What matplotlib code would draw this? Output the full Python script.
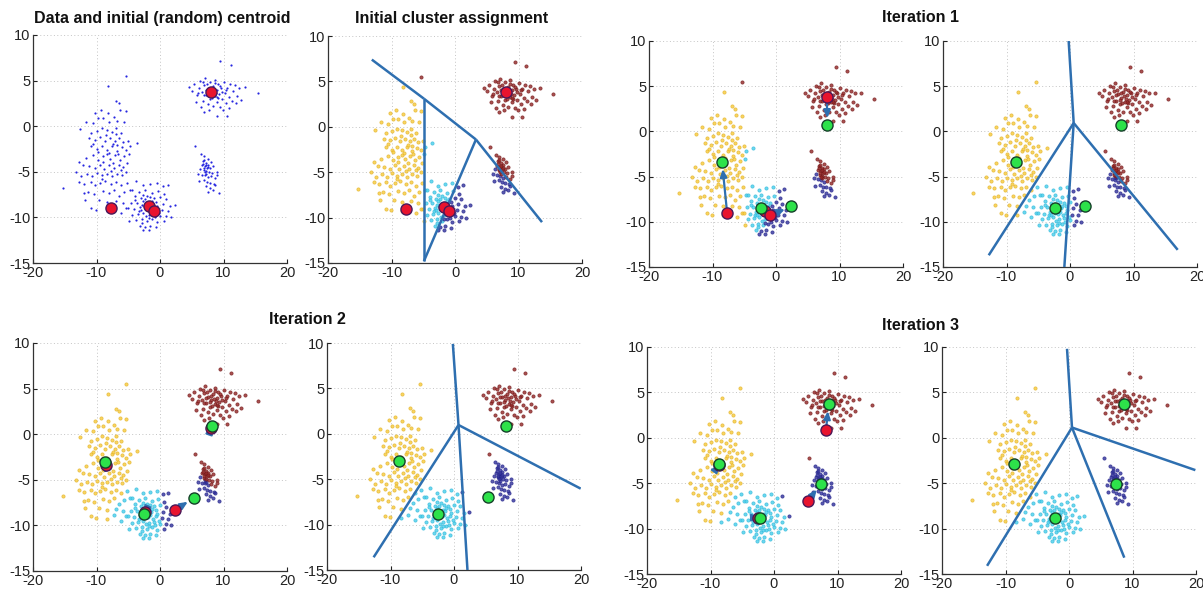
import numpy as np
import matplotlib
matplotlib.use("Agg")
import matplotlib.pyplot as plt

plt.rcParams['font.family'] = ['Liberation Sans', 'DejaVu Sans']
plt.rcParams['axes.unicode_minus'] = False

# ---------------- data ----------------
# natural cloud A (left, elongated)
cloud_a_x = [-5.3, -8.2, -7.0, -6.5, -10.2, -9.3, -8.2, -6.3, -5.4, -12.6, -11.6, -10.5, -9.8, -9.0,
             -8.0, -7.3, -6.7, -5.6, -10.8, -9.9, -9.2, -8.4, -7.5, -6.9, -6.2, -11.2, -10.3, -9.5,
             -8.7, -7.9, -7.1, -6.4, -5.8, -5.0, -3.6, -10.9, -10.0, -9.2, -8.4, -7.6, -6.8, -6.0,
             -5.3, -4.7, -12.7, -11.6, -10.6, -9.8, -9.0, -7.8, -7.1, -6.3, -5.6, -4.9, -12.2, -11.2,
             -10.3, -9.5, -8.8, -8.0, -7.2, -6.5, -5.8, -5.2, -13.3, -12.4, -11.5, -10.7, -10.0, -9.2,
             -8.4, -7.6, -6.8, -6.0, -5.4, -12.8, -11.9, -10.9, -10.2, -9.4, -8.6, -7.7, -6.9, -6.1,
             -5.2, -15.3, -11.3, -10.4, -9.0, -8.0, -7.2, -6.5, -5.6, -4.8, -9.6, -8.3, -6.9, -5.8,
             -10.9, -10.1, -8.4, -7.2, -6.2, -5.3, -11.8, -12.0, -8.1, -7.4, -8.9, -6.6, -7.7, -9.1,
             -8.5, -7.0, -6.1, -9.7, -8.3, -7.4, -10.5, -6.8]
cloud_a_y = [5.5, 4.4, 2.8, 2.5, 1.5, 1.8, 1.4, 1.8, 1.7, -0.3, 0.5, 0.3, 0.9, 0.9,
             0.5, 1.0, 0.6, 0.5, -0.7, -0.5, -0.2, -0.4, -0.6, -0.2, -0.7, -1.3, -1.5, -1.2,
             -1.6, -1.3, -1.6, -1.3, -1.7, -1.6, -1.8, -2.2, -2.5, -2.2, -2.6, -2.2, -2.7, -2.3,
             -2.6, -2.2, -3.9, -3.5, -3.2, -3.7, -3.3, -3.6, -3.2, -3.7, -3.3, -3.0, -4.3, -4.4,
             -4.6, -4.2, -4.7, -4.3, -4.6, -4.2, -4.5, -4.0, -5.0, -5.5, -5.2, -5.5, -5.1, -5.4,
             -5.2, -5.5, -5.2, -5.4, -5.0, -6.1, -6.3, -6.1, -6.5, -6.2, -6.0, -6.3, -6.1, -6.5,
             -6.2, -6.8, -7.2, -7.4, -7.1, -7.3, -7.0, -7.6, -7.2, -7.0, -8.1, -8.3, -8.2, -8.4,
             -9.0, -9.2, -9.3, -8.9, -9.5, -9.0, -8.1, -7.3, -2.9, -2.0, -3.9, -3.0, -4.9, -5.8,
             -1.0, -0.9, -4.8, -2.8, -3.1, -4.0, -1.9, -2.1]

# natural cloud B (lower middle)
cloud_b_x = [-3.8, -2.6, -1.5, -0.5, 0.4, 1.3, -4.4, -3.3, -2.3, -1.2, -0.3, 0.7, -4.0, -3.0,
             -2.0, -1.0, 0.0, 1.0, 2.3, -4.6, -3.6, -2.7, -1.7, -0.7, 0.4, 1.5, -5.0, -4.1,
             -3.2, -2.4, -1.5, -0.6, 0.3, 1.2, -4.4, -3.5, -2.6, -1.8, -0.9, 0.0, 1.8, -3.8,
             -2.9, -2.1, -1.2, -0.4, 0.6, -3.1, -2.3, -1.5, -0.7, -2.6, -1.7, -2.0, -2.2, -1.9,
             -2.5, -1.4, -2.9, -1.1, -3.3, -2.7, -1.6, -0.4, -3.9, -0.8, -2.2, -1.3, -2.4, -3.0,
             -0.2, -1.8, -2.8, 0.9, -4.9]
cloud_b_y = [-6.0, -6.5, -6.3, -6.2, -6.6, -6.4, -7.0, -7.2, -7.0, -7.3, -7.1, -7.4, -7.7, -7.9,
             -7.6, -7.9, -7.8, -8.0, -8.6, -8.4, -8.4, -8.2, -8.4, -8.3, -8.5, -8.7, -9.0, -9.1,
             -8.9, -9.0, -8.9, -9.0, -9.2, -9.3, -9.7, -9.6, -9.5, -9.7, -9.6, -9.8, -10.0, -10.3,
             -10.2, -10.4, -10.2, -10.5, -10.4, -10.9, -11.0, -10.9, -11.1, -11.4, -11.4, -8.8, -8.6, -9.1,
             -8.7, -8.5, -8.6, -9.3, -9.3, -7.5, -7.8, -8.7, -8.1, -10.0, -9.9, -8.2, -8.0, -9.2,
             -9.5, -10.1, -10.6, -9.9, -10.4]

# natural cloud C (right, compact)
cloud_c_x = [5.5, 6.4, 7.0, 7.6, 8.0, 6.8, 7.3, 6.6, 7.1, 7.5, 7.9, 8.4, 6.3, 6.9, 7.3, 7.7,
             8.2, 8.9, 6.6, 7.1, 7.5, 8.0, 8.6, 6.9, 7.4, 7.9, 8.5, 7.2, 7.8, 8.3, 9.3, 6.2,
             7.0, 7.4, 7.2, 6.8, 9.0, 8.7, 7.6, 7.0, 6.0, 7.3, 7.6, 7.1]
cloud_c_y = [-2.2, -3.1, -3.3, -3.6, -3.9, -3.8, -4.0, -4.3, -4.4, -4.2, -4.6, -4.4, -4.7, -4.8, -4.9, -5.0,
             -5.1, -5.0, -5.3, -5.4, -5.6, -5.5, -5.7, -5.9, -6.1, -6.2, -6.3, -6.6, -6.8, -7.0, -7.3, -6.0,
             -4.6, -4.6, -5.2, -4.1, -5.4, -6.5, -7.2, -3.7, -5.2, -4.3, -4.5, -5.0]

# natural cloud D (upper right)
cloud_d_x = [9.4, 11.2, 15.5, 9.0, 10.6, 4.5, 5.1, 5.4, 5.9, 6.1, 6.3, 6.6, 6.8, 7.0, 7.1, 7.3,
             7.5, 7.6, 7.8, 7.9, 8.1, 8.3, 8.4, 8.6, 8.7, 8.9, 9.0, 9.2, 9.3, 9.5, 9.6, 9.8,
             10.0, 10.2, 10.4, 10.6, 10.8, 11.0, 11.3, 11.5, 11.8, 12.1, 12.5, 13.4, 12.8, 5.6,
             6.4, 7.0, 7.7, 9.9, 10.9, 8.0, 8.5, 8.8, 7.8, 8.2, 9.1, 7.4, 6.9, 9.7,
             10.4, 6.0, 11.9, 8.6, 7.2, 6.7, 8.9, 9.4]
cloud_d_y = [7.1, 6.7, 3.6, 1.1, 1.1, 4.3, 3.9, 4.6, 3.4, 4.2, 5.0, 3.8, 2.8, 4.5, 5.3, 3.4,
             2.4, 4.1, 4.9, 3.0, 3.7, 4.4, 2.2, 3.3, 5.1, 4.0, 2.7, 4.6, 3.5, 2.1, 4.2, 3.0,
             4.8, 3.6, 2.5, 4.2, 3.2, 4.6, 2.8, 3.9, 4.5, 3.3, 4.2, 4.3, 2.9, 2.7,
             2.1, 1.6, 1.8, 1.8, 2.0, 4.2, 3.9, 3.6, 3.5, 3.1, 3.1, 4.6, 3.4, 3.8,
             4.0, 3.6, 2.5, 4.7, 4.0, 4.9, 3.2, 4.4]

# centroids at each step (cluster order: yellow, cyan, dark blue, dark red)
centroid0_x = [-7.7, -1.8, -0.9, 8.0]
centroid0_y = [-9.0, -8.8, -9.3, 3.8]
centroid1_x = [-8.5, -2.3, 2.4, 8.1]
centroid1_y = [-3.4, -8.5, -8.3, 0.7]
centroid2_x = [-8.7, -2.5, 5.3, 8.2]
centroid2_y = [-3.0, -8.8, -7.0, 0.9]
centroid3_x = [-8.6, -2.2, 7.4, 8.6]
centroid3_y = [-2.9, -8.8, -5.1, 3.7]

# decision boundaries (segments)
boundary0_x = [[-13.1, -4.9], [-4.9, 3.3], [3.3, 13.7], [-4.9, -4.9], [3.3, -4.9]]
boundary0_y = [[7.4, 3.1], [3.1, -1.4], [-1.4, -10.5], [3.1, -14.8], [-1.4, -14.8]]
boundary1_x = [[0.58, -0.21], [0.58, -12.8], [0.58, -0.89], [0.58, 16.96]]
boundary1_y = [[0.93, 10.0], [0.93, -13.7], [0.93, -15.0], [0.93, -13.1]]
boundary2_x = [[0.71, -0.18], [0.71, -12.66], [0.71, 2.12], [0.71, 19.95]]
boundary2_y = [[0.97, 9.9], [0.97, -13.6], [0.97, -15.0], [0.97, -6.04]]
boundary3_x = [[0.47, -0.31], [0.47, -12.9], [0.47, 8.71], [0.47, 19.9]]
boundary3_y = [[1.13, 9.8], [1.13, -14.1], [1.13, -13.2], [1.13, -3.56]]

titles = ["Data and initial (random) centroid", "Initial cluster assignment",
          "Iteration 1", "Iteration 2", "Iteration 3"]
x_ticks = [-20, -10, 0, 10, 20]
y_ticks = [-15, -10, -5, 0, 5, 10]

# ---------------- styles ----------------
cluster_face = ['#F7CB3C', '#4ACFEC', '#33339C', '#952828']
cluster_edge = ['#E3B225', '#2FB8DA', '#22228A', '#741818']
raw_color = '#2626E0'
line_color = '#2E6FB0'
red_face, red_edge = '#E8142E', '#4A1858'
green_face, green_edge = '#2DE24A', '#16402A'

pts_x = np.array(cloud_a_x + cloud_b_x + cloud_c_x + cloud_d_x)
pts_y = np.array(cloud_a_y + cloud_b_y + cloud_c_y + cloud_d_y)


def assign(cx, cy):
    d = (pts_x[:, None] - np.array(cx)[None, :]) ** 2 + (pts_y[:, None] - np.array(cy)[None, :]) ** 2
    return np.argmin(d, axis=1)


W, H = 1203, 589
fig = plt.figure(figsize=(W / 100, H / 100), dpi=100)


def make_axes(left, right, top, bottom):
    ax = fig.add_axes([left / W, 1 - bottom / H, (right - left) / W, (bottom - top) / H])
    ax.set_xlim(-20, 20)
    ax.set_ylim(-15, 10)
    ax.set_xticks(x_ticks)
    ax.set_yticks(y_ticks)
    ax.grid(True, linestyle=(0, (1, 2.5)), color='#C4C4C4', linewidth=0.7)
    ax.set_axisbelow(True)
    for s in ['top', 'right']:
        ax.spines[s].set_visible(False)
    for s in ['left', 'bottom']:
        ax.spines[s].set_color('#333333')
        ax.spines[s].set_linewidth(0.9)
    ax.tick_params(direction='in', length=3, width=0.8, labelsize=10.5, colors='#222222', pad=2)
    return ax


def draw_points(ax, labels):
    for k in range(4):
        m = labels == k
        ax.scatter(pts_x[m], pts_y[m], s=5.5, facecolors=cluster_face[k], edgecolors=cluster_edge[k],
                   linewidths=0.5, alpha=0.8, zorder=2)


def draw_boundary(ax, bx, by):
    for xs, ys in zip(bx, by):
        ax.plot(xs, ys, color=line_color, lw=1.8, zorder=3, solid_capstyle='butt', clip_on=True)


def draw_centroids(ax, cx, cy, face, edge, z):
    ax.plot(cx, cy, 'o', ms=8, mfc=face, mec=edge, mew=1.0, zorder=z, linestyle='none')


def draw_arrows(ax, ox, oy, nx, ny):
    for a, b, c, d in zip(ox, oy, nx, ny):
        ax.annotate('', xy=(c, d), xytext=(a, b),
                    arrowprops=dict(arrowstyle='-|>,head_length=0.45,head_width=0.2', color=line_color,
                                    lw=1.6, shrinkA=0, shrinkB=5), zorder=4)


lab0 = assign(centroid0_x, centroid0_y)
lab1 = assign(centroid1_x, centroid1_y)
lab2 = assign(centroid2_x, centroid2_y)
lab3 = assign(centroid3_x, centroid3_y)

# panel 1: raw data
ax1 = make_axes(33, 287, 35, 263)
ax1.scatter(pts_x, pts_y, s=2.5, color=raw_color, linewidths=0, zorder=2)
draw_centroids(ax1, centroid0_x, centroid0_y, red_face, red_edge, 5)

# panel 2: initial assignment
ax2 = make_axes(328, 582, 36, 263)
draw_points(ax2, lab0)
draw_boundary(ax2, boundary0_x, boundary0_y)
draw_centroids(ax2, centroid0_x, centroid0_y, red_face, red_edge, 5)

# iteration 1
ax3 = make_axes(649, 903, 41, 267)
draw_points(ax3, lab0)
draw_arrows(ax3, centroid0_x, centroid0_y, centroid1_x, centroid1_y)
draw_centroids(ax3, centroid0_x, centroid0_y, red_face, red_edge, 5)
draw_centroids(ax3, centroid1_x, centroid1_y, green_face, green_edge, 6)

ax4 = make_axes(943, 1197, 41, 267)
draw_points(ax4, lab1)
draw_boundary(ax4, boundary1_x, boundary1_y)
draw_centroids(ax4, centroid1_x, centroid1_y, green_face, green_edge, 6)

# iteration 2
ax5 = make_axes(33, 287, 343, 571)
draw_points(ax5, lab1)
draw_arrows(ax5, centroid1_x, centroid1_y, centroid2_x, centroid2_y)
draw_centroids(ax5, centroid1_x, centroid1_y, red_face, red_edge, 5)
draw_centroids(ax5, centroid2_x, centroid2_y, green_face, green_edge, 6)

ax6 = make_axes(327, 581, 343, 570)
draw_points(ax6, lab2)
draw_boundary(ax6, boundary2_x, boundary2_y)
draw_centroids(ax6, centroid2_x, centroid2_y, green_face, green_edge, 6)

# iteration 3
ax7 = make_axes(647, 901, 347, 574)
draw_points(ax7, lab2)
draw_arrows(ax7, centroid2_x, centroid2_y, centroid3_x, centroid3_y)
draw_centroids(ax7, centroid2_x, centroid2_y, red_face, red_edge, 5)
draw_centroids(ax7, centroid3_x, centroid3_y, green_face, green_edge, 6)

ax8 = make_axes(942, 1196, 347, 574)
draw_points(ax8, lab3)
draw_boundary(ax8, boundary3_x, boundary3_y)
draw_centroids(ax8, centroid3_x, centroid3_y, green_face, green_edge, 6)

# titles
title_pos = [(162, 19), (452, 19), (921, 18), (307, 320), (921, 325)]
for t, (px, py) in zip(titles, title_pos):
    fig.text(px / W, 1 - py / H, t, ha='center', va='center', fontsize=11.5, fontweight='bold',
             color='#111111')

fig.savefig('out.png', dpi=100)
